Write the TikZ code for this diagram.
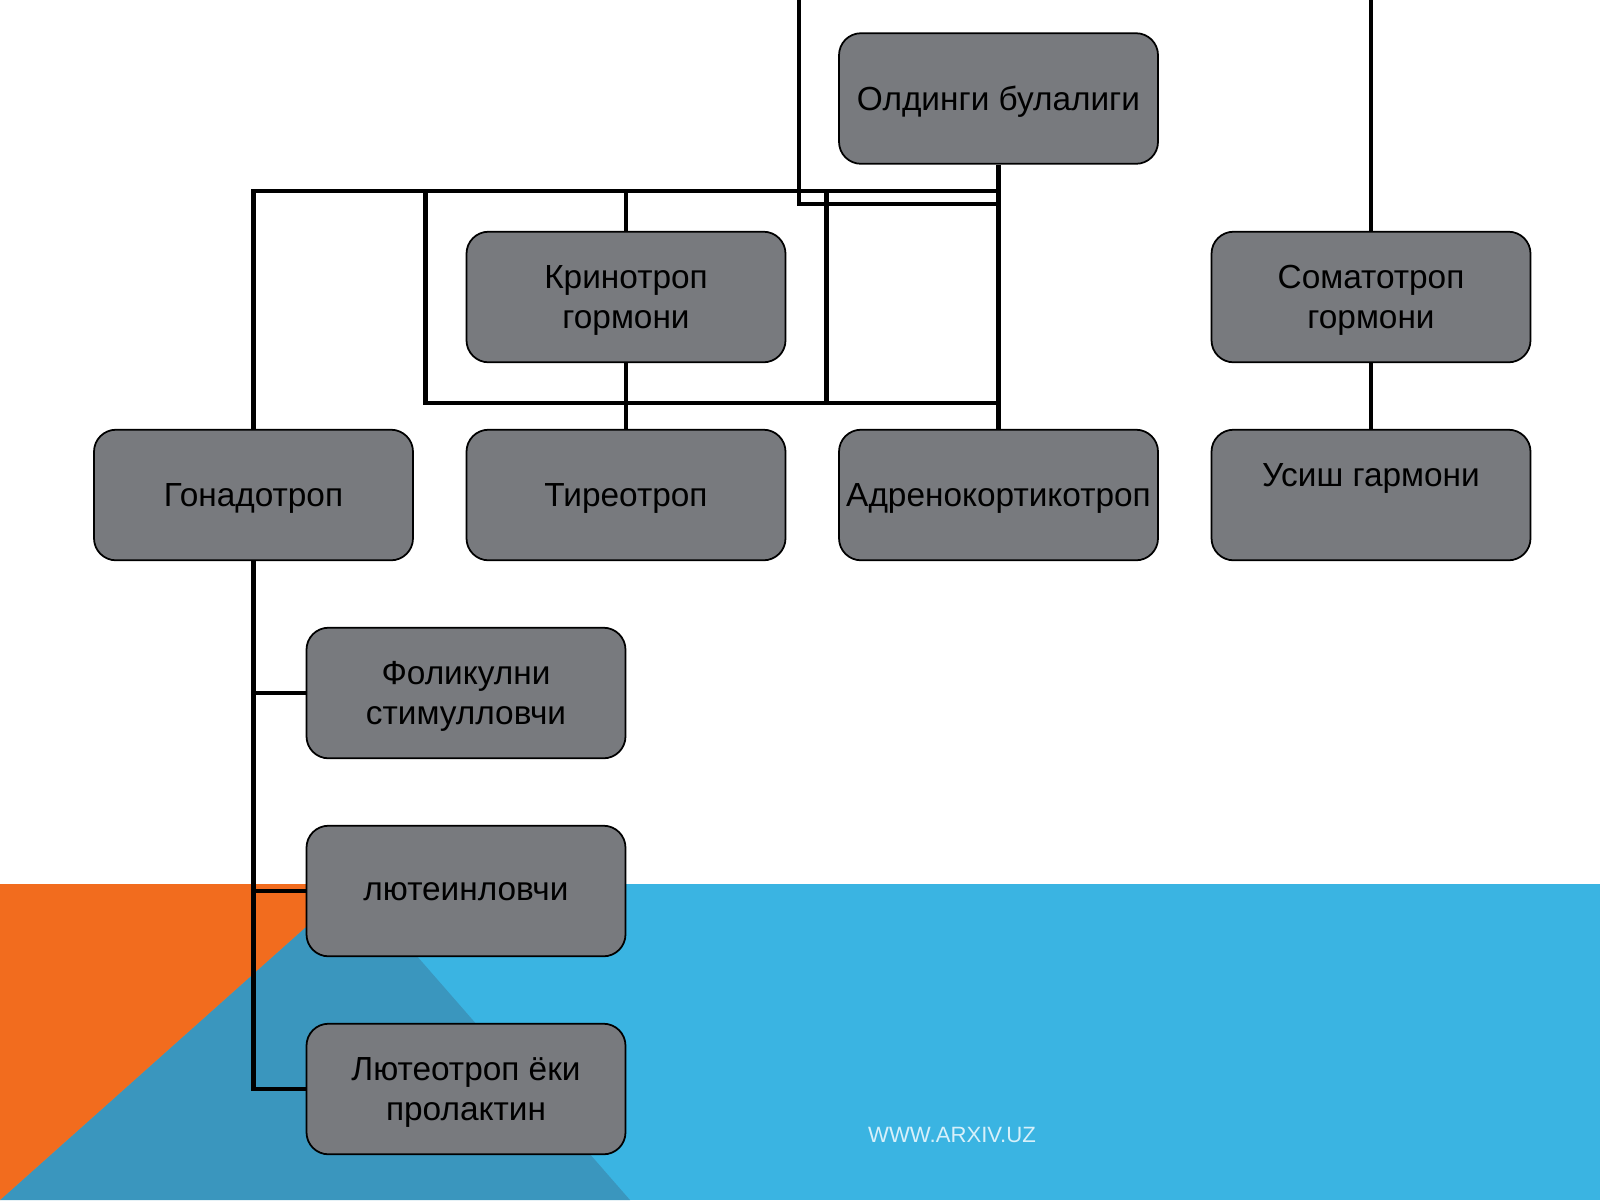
\documentclass[tikz,border=0pt]{standalone}
\usepackage{fontspec}
\setmainfont{Liberation Sans}
\usepackage{xcolor}
\usetikzlibrary{positioning}
\definecolor{boxgray}{RGB}{120,122,126}
\definecolor{myorange}{RGB}{242,108,30}
\definecolor{myblue}{RGB}{58,180,226}
\definecolor{mydarkblue}{RGB}{58,150,190}
\definecolor{myfoot}{RGB}{215,240,250}

\begin{document}
\begin{tikzpicture}[
          box/.style={draw=black,line width=0.5pt,rounded corners=0.22cm,fill=boxgray,
                      minimum width=3.19cm,minimum height=1.306cm,align=center,
                      inner sep=2pt,text depth=-0.4pt,font=\fontsize{9.5}{11.4}\selectfont},
          conn/.style={line width=1.2pt,black}]
        \useasboundingbox (0,0) rectangle (16,-12);
        % background
        \fill[white] (0,0) rectangle (16,-12);
        \fill[myblue] (0,-8.84) rectangle (16,-12);
        \fill[mydarkblue] (3.54,-8.84) -- (0,-12) -- (6.3,-12) -- cycle;
        \fill[myorange] (0,-8.84) -- (3.54,-8.84) -- (0,-12) -- cycle;

        \node[box](oldingi) at (9.985,-0.985){Олдинги булалиги};
        \node[box](krino) at (6.26,-2.97){Кринотроп\\гормони};
        \node[box](somato) at (13.71,-2.97){Соматотроп\\гормони};
        \node[box](gonado) at (2.535,-4.95){Гонадотроп};
        \node[box](tireo) at (6.26,-4.95){Тиреотроп};
        \node[box](adreno) at (9.985,-4.95){Адренокортикотроп};
        \node[box](usish) at (13.71,-4.95){Усиш гармони\\\phantom{гормони}};
        \node[box](foli) at (4.66,-6.93){Фоликулни\\стимулловчи};
        \node[box](lutein) at (4.66,-8.91){лютеинловчи};
        \node[box](lutpro) at (4.66,-10.89){Лютеотроп ёки\\пролактин};

        \coordinate (bus) at (0,-1.91);
        \coordinate (topA) at (7.99,0);
        \coordinate (busB) at (7.99,-2.04);
        \coordinate (topB) at (13.71,0);
        \coordinate (loopL) at (4.255,-4.03);
        \coordinate (loopR) at (8.265,-4.03);

        \draw[conn](oldingi)--(adreno);
        \draw[conn](gonado.north)|-(oldingi.south |- bus);
        \draw[conn](topA)|-(oldingi.south |- busB);
        \draw[conn](krino.north)--(krino.north |- bus);
        \draw[conn](krino)--(tireo);
        \draw[conn](loopL |- bus)--(loopL)--(adreno.north |- loopL);
        \draw[conn](loopR |- bus)--(loopR);
        \draw[conn](topB)--(somato);
        \draw[conn](somato)--(usish);
        \draw[conn](gonado.south)|-(lutpro.west);
        \draw[conn](foli.west)--(foli.west -| gonado.south);
        \draw[conn](lutein.west)--(lutein.west -| gonado.south);

        \node[myfoot,font=\fontsize{6.3}{7}\selectfont](site) at (9.52,-11.35){WWW.ARXIV.UZ};
      \end{tikzpicture}
\end{document}
